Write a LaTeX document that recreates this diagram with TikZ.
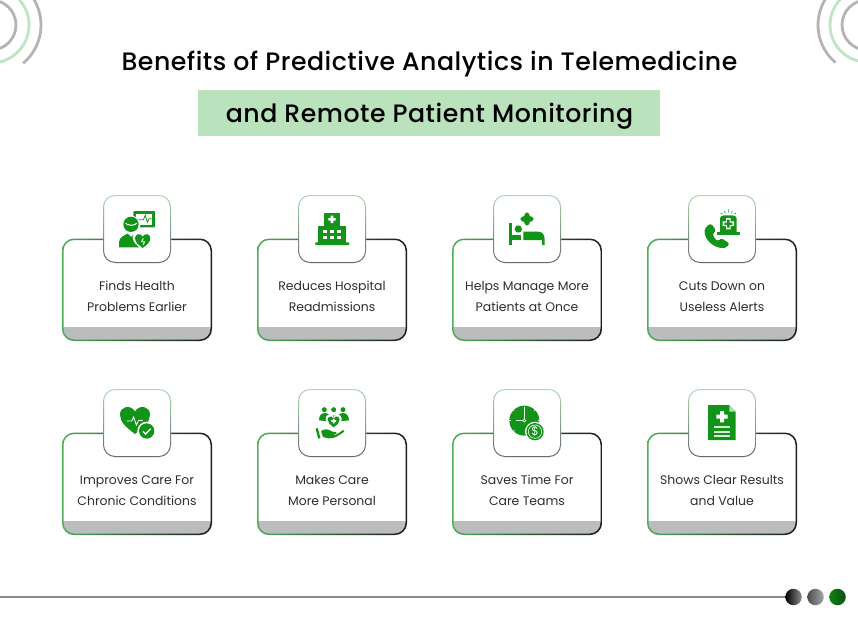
\documentclass[tikz,border=0pt]{standalone}
\usepackage{fontspec}
\setmainfont{Poppins}
\newfontfamily\titlefont[LetterSpace=2.0]{Poppins Medium}
\definecolor{ig}{HTML}{129418}
\definecolor{ringgreen}{HTML}{4FAF58}
\definecolor{ringdark}{HTML}{1C1C1C}
\definecolor{foot}{HTML}{BBBCBE}
\definecolor{band}{HTML}{B9E2BD}
\definecolor{arcg}{HTML}{B4B4B6}
\definecolor{arcl}{HTML}{BFE5C5}
\tikzset{
  cardtext/.style={align=center,text=black!82,font=\fontsize{12.45}{21}\selectfont,inner sep=0pt},
  titletext/.style={text=black,font=\titlefont\fontsize{25.2}{30}\selectfont,inner sep=0pt},
  arcline/.style={line width=2.8pt,draw=#1},
  dotnode/.style={circle,minimum size=16.5pt,inner sep=0pt},
  zoomA/.style={x=.33333pt,y=-.33333pt}
}
% heart: centre x, y of waist, size
\newcommand{\heartp}[3]{({#1},{#2+#3}) .. controls ({#1-.6*#3},{#2+.55*#3}) and ({#1-#3},{#2+.2*#3}) .. ({#1-#3},{#2-.3*#3}) .. controls ({#1-#3},{#2-.85*#3}) and ({#1-.3*#3},{#2-1.0*#3}) .. ({#1},{#2-.5*#3}) .. controls ({#1+.3*#3},{#2-1.0*#3}) and ({#1+#3},{#2-.85*#3}) .. ({#1+#3},{#2-.3*#3}) .. controls ({#1+#3},{#2+.2*#3}) and ({#1+.6*#3},{#2+.55*#3}) .. ({#1},{#2+#3})}
% plus: centre x, y, half length, half width
\newcommand{\plusp}[4]{({#1-#4},{#2-#3}) -- ({#1+#4},{#2-#3}) -- ({#1+#4},{#2-#4}) -- ({#1+#3},{#2-#4}) -- ({#1+#3},{#2+#4}) -- ({#1+#4},{#2+#4}) -- ({#1+#4},{#2+#3}) -- ({#1-#4},{#2+#3}) -- ({#1-#4},{#2+#4}) -- ({#1-#3},{#2+#4}) -- ({#1-#3},{#2-#4}) -- ({#1-#4},{#2-#4}) -- cycle}
\newcommand{\cardbox}[5]{%
  \fill[white,rounded corners=12pt] (#2,#3) rectangle ++(150,102.5);
  \begin{scope}
    \clip[rounded corners=12pt] (#2,#3) rectangle ++(150,102.5);
    \fill[foot] (#2,#3+88.5) rectangle ++(150,14);
  \end{scope}
  \shade[even odd rule,left color=ringgreen,right color=ringdark,middle color=ringgreen!45!ringdark]
    [rounded corners=12pt] (#2,#3) rectangle ++(150,102.5)
    [rounded corners=10.6pt] (#2+1.5,#3+1.5) rectangle ++(147,99.5);
  \fill[white,rounded corners=12pt] (#2+41,#3-43.5) rectangle ++(68,68);
  \shade[even odd rule,top color=arcl!80!ringgreen,bottom color=black!60]
    [rounded corners=12pt] (#2+41,#3-43.5) rectangle ++(68,68)
    [rounded corners=11pt] (#2+42,#3-42.5) rectangle ++(66,66);
  \node[cardtext] (#1) at (#2+75,#3+58.3) {#4\\#5};
}
\begin{document}
\begin{tikzpicture}[x=1pt,y=-1pt]
\useasboundingbox (0,0) rectangle (858,631);
\fill[white] (0,0) rectangle (858,631);
\begin{scope}
  \clip (0,0) rectangle (858,631);
  \draw[arcline=arcg] (-9,25) circle (25);
  \draw[arcline=arcl] (-9,25) circle (38);
  \draw[arcline=arcg] (-9,25) ++(50:50) arc[start angle=50,end angle=-60,radius=50];
  \draw[arcline=arcg] (867,25) circle (25);
  \draw[arcline=arcl] (867,25) circle (37);
  \draw[arcline=arcg] (867,25) ++(130:49) arc[start angle=130,end angle=240,radius=49];
\end{scope}

\node[titletext] (t1) at (429.5,64) {Benefits of Predictive Analytics in Telemedicine};
\fill[band] (198,90) rectangle (660,136);
\node[titletext] (t2) at (429.5,116) {and Remote Patient Monitoring};

\cardbox{c1}{62}{238.5}{Finds Health}{Problems Earlier}
\cardbox{c2}{257}{238.5}{Reduces Hospital}{Readmissions}
\cardbox{c3}{452}{238.5}{Helps Manage More}{Patients at Once}
\cardbox{c4}{647}{238.5}{Cuts Down on}{Useless Alerts}
\cardbox{c5}{62}{432.5}{Improves Care For}{Chronic Conditions}
\cardbox{c6}{257}{432.5}{Makes Care}{More Personal}
\cardbox{c7}{452}{432.5}{Saves Time For}{Care Teams}
\cardbox{c8}{647}{432.5}{Shows Clear Results}{and Value}

% icon 1: clinician, monitor, heart
\begin{scope}[shift={(50,185)},zoomA]
  \fill[ig,rounded corners=1pt] (250,78) rectangle (315,127);
  \fill[white] (258,86) rectangle (307,119);
  \draw[ig,line width=.8pt] (262,104) -- (280,104) -- (286,91) -- (292,112) -- (297,101) -- (305,101);
  \fill[white] (243,120) circle (28);
  \fill[ig] (243,118) circle (23);
  \draw[white,line width=1pt] (227,114) .. controls (234,124) and (240,116) .. (244,121) .. controls (248,116) and (254,124) .. (260,114);
  \fill[ig] (207,187) -- (207,172) .. controls (207,156) and (225,150) .. (233,146) -- (243,156) -- (254,146) .. controls (265,150) and (285,155) .. (290,170) -- (290,187) -- cycle;
  \fill[white] \heartp{278}{165}{30};
  \fill[ig] \heartp{278}{166}{23};
  \draw[white,line width=.7pt] (280,160) -- (275,170) -- (284,170) -- (279,180);
\end{scope}

% icon 2: hospital
\begin{scope}[shift={(290,190)},zoomA]
  \fill[ig] (103,68) rectangle (150,110);
  \fill[ig] (85,108) rectangle (168,160);
  \fill[ig,rounded corners=1pt] (75,157) rectangle (178,165);
  \fill[white] \plusp{126}{88}{11}{4};
  \foreach \wx in {105,126,147}{
    \foreach \wy in {125,143}{
      \fill[white] (\wx-5,\wy-5) rectangle ++(10,10);
    }
  }
\end{scope}

% icon 3: bed
\begin{scope}[shift={(290,190)},zoomA]
  \fill[ig,rounded corners=1.5pt] \plusp{711}{87}{19}{7};
  \fill[ig] (658,98) rectangle (666,165);
  \fill[ig] (685,117) circle (11);
  \fill[ig] (666,136) rectangle (692,150);
  \fill[ig] (700,150) -- (700,125) -- (745,125) .. controls (758,125) and (764,135) .. (764,150) -- (764,165) -- (756,165) -- (756,150) -- cycle;
\end{scope}

% icon 4: siren and phone
\begin{scope}[shift={(680,190)},zoomA]
  \fill[ig] (110,126) rectangle (180,134);
  \fill[ig] (120,127) -- (120,90) .. controls (120,80) and (124,76) .. (132,76) -- (158,76) .. controls (166,76) and (170,80) .. (170,90) -- (170,127) -- cycle;
  \fill[white] \plusp{145}{101}{17}{7};
  \fill[ig] \plusp{145}{101}{12}{3.5};
  \draw[ig,line width=.6pt] (122,70) -- (128,72) (133,64) -- (136,70) (145,58) -- (145,68) (157,64) -- (154,70) (168,70) -- (162,72);
  \fill[ig,rounded corners=1.5pt] (85,104) -- (74,118) .. controls (72,150) and (105,178) .. (138,173) -- (149,161) -- (125,145) -- (114,153) .. controls (106,149) and (101,140) .. (98,131) -- (108,122) -- (95,102) -- cycle;
\end{scope}

% icon 5: heart with check
\begin{scope}[shift={(95,385)},zoomA]
  \fill[ig] \heartp{120}{102}{45};
  \draw[white,line width=.9pt] (95,108) -- (110,108) -- (116,96) -- (124,120) -- (131,106) -- (143,106);
  \fill[white] (155,138) circle (28);
  \fill[ig] (155,138) circle (23);
  \draw[white,line width=1.3pt] (144,139) -- (152,147) -- (167,131);
\end{scope}

% icon 6: people, heart, hand
\begin{scope}[shift={(95,385)},zoomA]
  \foreach \hx in {688,716,744}{\fill[ig] (\hx,74) circle (7.5);}
  \fill[ig] (672,106) .. controls (672,90) and (680,84) .. (690,84) .. controls (698,84) and (702,88) .. (704,92) -- (728,92) .. controls (732,86) and (738,84) .. (744,84) .. controls (754,84) and (762,92) .. (762,106) -- (745,108) -- (690,108) -- cycle;
  \fill[white] \heartp{716}{108}{24};
  \fill[ig] \heartp{716}{109}{18};
  \fill[white] \plusp{716}{108}{7}{2.5};
  \draw[ig,line width=2.3pt] (665,130) -- (673,160);
  \fill[ig] (678,138) .. controls (690,130) and (700,132) .. (712,140) -- (722,141) .. controls (728,142) and (726,148) .. (720,148) -- (706,148) -- (722,150) -- (745,135) -- (748,140) .. controls (730,152) and (718,162) .. (700,160) -- (684,156) -- cycle;
\end{scope}

% icon 7: clock and coin
\begin{scope}[shift={(485,385)},zoomA]
  \fill[ig] (118,107) circle (45);
  \draw[white,line width=.5pt] (118,66) -- (118,103) (92,107) -- (114,107);
  \draw[white,line width=.5pt] (118,107) circle (4.5);
  \foreach \ta in {0,45,135,180,225,315}{
    \draw[white,line width=.4pt] (118,107) ++(\ta:41) -- ++(\ta:4);
  }
  \fill[white] (150,140) circle (30);
  \fill[ig] (150,140) circle (26);
  \draw[white,line width=.6pt] (150,140) circle (20);
  \node[text=white,inner sep=0pt,font=\fontsize{12}{12}\selectfont] (coin) at (150,140) {\$};
\end{scope}

% icon 8: document
\begin{scope}[shift={(485,385)},zoomA]
  \fill[ig] (669,60) -- (733,60) -- (752,80) -- (752,165) -- (669,165) -- cycle;
  \fill[ig!30] (733,60) -- (752,80) -- (733,80) -- cycle;
  \fill[white] \plusp{711}{95}{17}{6};
  \fill[white!85!ig] (687,124) rectangle (735,130);
  \fill[white!85!ig] (687,137) rectangle (735,143);
  \fill[white!85!ig] (687,150) rectangle (735,156);
\end{scope}

% footer rule and dots
\coordinate (ruleL) at (0,597);
\node[dotnode,left color=black,right color=black!45] (d1) at (793.5,597) {};
\node[dotnode,left color=black!70,right color=black!35] (d2) at (815.5,597) {};
\node[dotnode,left color=ig!85!black,right color=ig!55!black] (d3) at (837.5,597) {};
\draw[draw=black!45,line width=1.3pt] (ruleL) -- (d1);
\end{tikzpicture}
\end{document}
